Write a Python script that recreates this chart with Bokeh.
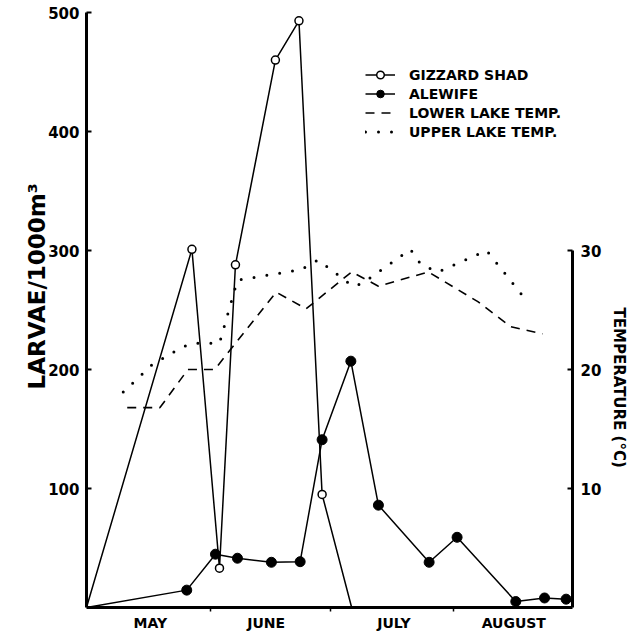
from bokeh.plotting import figure
from bokeh.models import (Range1d, LinearAxis, FixedTicker, Legend, LegendItem, Title)
from bokeh.embed import file_html
from bokeh.resources import INLINE

# ---- data (x = days since 1 May) ----
month_centers = [16, 45, 77, 107]
month_labels = ["MAY", "JUNE", "JULY", "AUGUST"]
month_bounds = [31, 61, 92]

shad_day = [0, 26.4, 33.3, 37.3, 47.3, 53.2, 59.0, 66.4]
shad_larvae = [0, 301, 33, 288, 460, 493, 95, 0]

alewife_day = [0, 25.1, 32.3, 37.8, 46.3, 53.5, 59.0, 66.2, 73.1, 85.8, 92.8, 107.5, 114.7, 120.1]
alewife_larvae = [0, 14.6, 44.8, 41.4, 38, 38.5, 141, 207, 86, 38, 59, 5, 8, 7]

lower_day = [10.2, 18.4, 25.4, 32.1, 47.5, 55.0, 66.4, 73.1, 85.6, 98.0, 106.2, 114.2]
lower_temp = [16.8, 16.8, 20.0, 20.0, 26.5, 25.1, 28.2, 27.0, 28.2, 25.7, 23.6, 23.0]

upper_day = [9.2, 16.4, 24.1, 26.6, 33.3, 37.8, 53.7, 58.0, 66.7, 68.9, 81.1, 83.8, 88.1, 100.2, 110.4]
upper_temp = [18.1, 20.4, 21.9, 22.2, 22.2, 27.5, 28.4, 29.2, 27.0, 27.2, 30.1, 28.8, 28.2, 30.0, 25.7]

left_ticks = [100, 200, 300, 400, 500]
right_ticks = [10, 20, 30]

FONT = "DejaVu Sans"

p = figure(width=634, height=633, output_backend="svg", toolbar_location=None,
           x_range=Range1d(0, 121.7), y_range=Range1d(0, 500),
           min_border_left=86, min_border_right=59, min_border_top=12, min_border_bottom=20)
p.extra_y_ranges = {"temp": Range1d(0, 50)}
p.outline_line_color = None
p.grid.visible = False
p.background_fill_color = "white"

# x axis
xa = p.xaxis[0]
xa.ticker = FixedTicker(ticks=month_centers, minor_ticks=month_bounds)
xa.major_label_overrides = {c: l for c, l in zip(month_centers, month_labels)}
xa.major_tick_in = 0
xa.major_tick_out = 0
xa.minor_tick_in = 0
xa.minor_tick_out = 4
xa.minor_tick_line_width = 1.5
xa.minor_tick_line_color = "black"
xa.axis_line_width = 3
xa.axis_line_color = "black"
xa.major_label_standoff = 3
xa.axis_label_standoff = 0
xa.major_label_text_font = FONT
xa.major_label_text_font_style = "bold"
xa.major_label_text_font_size = "14px"
xa.major_label_text_color = "black"

# left axis
ya = p.yaxis[0]
ya.ticker = FixedTicker(ticks=left_ticks)
ya.major_tick_in = 5
ya.major_tick_out = 0
ya.major_tick_line_width = 2
ya.major_tick_line_color = "black"
ya.minor_tick_in = 0
ya.minor_tick_out = 0
ya.axis_line_width = 3
ya.axis_line_color = "black"
ya.major_label_standoff = 7
ya.major_label_text_font = FONT
ya.major_label_text_font_style = "bold"
ya.major_label_text_font_size = "15px"
ya.major_label_text_color = "black"

# right axis
ra = LinearAxis(y_range_name="temp", ticker=FixedTicker(ticks=right_ticks), bounds=(0, 30))
ra.major_tick_in = 5
ra.major_tick_out = 0
ra.major_tick_line_width = 2
ra.major_tick_line_color = "black"
ra.minor_tick_in = 0
ra.minor_tick_out = 0
ra.axis_line_width = 3
ra.axis_line_color = "black"
ra.major_label_standoff = 8
ra.major_label_text_font = FONT
ra.major_label_text_font_style = "bold"
ra.major_label_text_font_size = "15px"
ra.major_label_text_color = "black"
p.add_layout(ra, "right")

# axis titles as side titles (positioned along the axis)
left_title = Title(text="LARVAE/1000m\u00b3", align="left", offset=218, standoff=-8,
                   text_font=FONT, text_font_style="bold", text_font_size="23px",
                   text_color="black")
p.add_layout(left_title, "left")
right_title = Title(text="TEMPERATURE (\u00b0C)", align="left", offset=295, standoff=10,
                    text_font=FONT, text_font_style="bold", text_font_size="15px",
                    text_color="black")
p.add_layout(right_title, "right")

# series
shad_line = p.line(shad_day, shad_larvae, line_color="black", line_width=1.5)
shad_pts = p.scatter(shad_day[1:-1], shad_larvae[1:-1], marker="circle", size=8,
                     fill_color="white", line_color="black", line_width=1.5)

ale_line = p.line(alewife_day, alewife_larvae, line_color="black", line_width=1.5)
ale_pts = p.scatter(alewife_day[1:], alewife_larvae[1:], marker="circle", size=10,
                    fill_color="black", line_color="black")

low_line = p.line(lower_day, lower_temp, y_range_name="temp", line_color="black",
                  line_width=1.6, line_dash="9 7")
up_line = p.line(upper_day, upper_temp, y_range_name="temp", line_color="black",
                 line_width=3, line_dash="0 13", line_cap="round")

legend = Legend(items=[
    LegendItem(label="GIZZARD SHAD", renderers=[shad_line, shad_pts]),
    LegendItem(label="ALEWIFE", renderers=[ale_line, ale_pts]),
    LegendItem(label="LOWER LAKE TEMP.", renderers=[low_line]),
    LegendItem(label="UPPER LAKE TEMP.", renderers=[up_line]),
], location=(279, 466))
legend.border_line_color = None
legend.background_fill_alpha = 0
legend.padding = 0
legend.margin = 0
legend.spacing = 0
legend.glyph_width = 30
legend.glyph_height = 19
legend.label_height = 19
legend.label_standoff = 14
legend.label_text_font = FONT
legend.label_text_font_style = "bold"
legend.label_text_font_size = "14px"
legend.label_text_color = "black"
p.add_layout(legend, "center")

open("out.html", "w").write(file_html(p, INLINE))
